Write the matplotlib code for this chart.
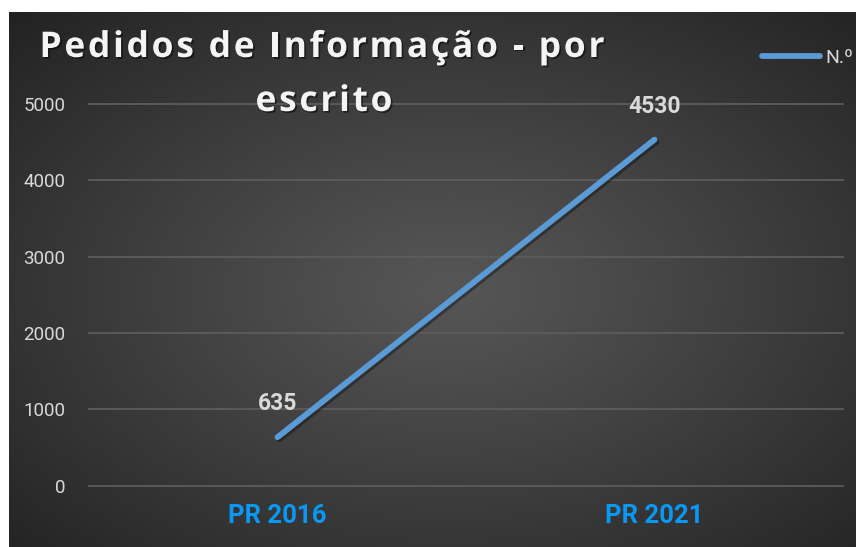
import numpy as np
import matplotlib
matplotlib.use("Agg")
import matplotlib.pyplot as plt
import matplotlib.patheffects as pe
from matplotlib.font_manager import FontProperties

categories = ["PR 2016", "PR 2021"]
values = [635, 4530]
series_name = "N.º"
yticks = [0, 1000, 2000, 3000, 4000, 5000]
title_lines = ["Pedidos de Informação - por", "escrito"]

W, H = 856, 547
fig = plt.figure(figsize=(W / 100, H / 100), dpi=100, facecolor="white")

# dark background panel with radial gradient
bx0, by_top = 9, 12
bg = fig.add_axes([bx0 / W, 0, (W - bx0) / W, (H - by_top) / H])
bg.set_axis_off()
nx, ny = 400, 260
xx, yy = np.meshgrid(np.linspace(0, 1, nx), np.linspace(0, 1, ny))
cx, cy = 0.52, 0.48
r = np.sqrt(((xx - cx) / 0.75) ** 2 + ((yy - cy) / 0.75) ** 2)
r = np.clip(r, 0, 1)
val = (86 - (86 - 33) * r ** 1.1) / 255.0
img = np.dstack([val, val, val])
bg.imshow(img, aspect="auto", extent=[0, 1, 0, 1], origin="lower", interpolation="bilinear")
bg.set_xlim(0, 1)
bg.set_ylim(0, 1)

# main axes
ax_left, ax_right = 89, 843
y0_px, y5000_px = 485.7, 103.7
ax = fig.add_axes([ax_left / W, (H - y0_px) / H, (ax_right - ax_left) / W, (y0_px - y5000_px) / H])
ax.set_facecolor("none")
x = np.arange(len(categories))
line, = ax.plot(x, values, color="#5b9bd5", lw=4.2, solid_capstyle="round", label=series_name,
                path_effects=[pe.SimpleLineShadow(offset=(1.5, -1.5), alpha=0.35, shadow_color="black"), pe.Normal()])
ax.set_xlim(-0.5, len(categories) - 0.5)
ax.set_ylim(0, 5000)
ax.set_yticks(yticks)
ax.set_yticklabels([str(v) for v in yticks], fontsize=13.5, color="#d9d9d9", family="Roboto")
ax.set_xticks(x)
ax.set_xticklabels(categories, fontsize=18.5, fontweight="bold", color="#0a98f5", family="Roboto")
ax.tick_params(axis="y", length=0, pad=17)
ax.tick_params(axis="x", length=0, pad=13)
for s in ax.spines.values():
    s.set_visible(False)
ax.grid(axis="y", color="#5c5c5c", lw=1.3)
ax.set_axisbelow(True)
for gl in ax.get_ygridlines():
    gl.set_clip_on(False)

for xi, v in zip(x, values):
    ax.annotate(str(v), (xi, v), xytext=(0, 24), textcoords="offset points", ha="center", va="center",
                fontsize=16.5, fontweight="bold", color="#d9d9d9", family="Roboto")

leg = ax.legend(loc="center left", bbox_to_anchor=(762 / W, (H - 58) / H), bbox_transform=fig.transFigure,
                frameon=False, handlelength=3.0, handletextpad=0.25, borderpad=0, borderaxespad=0,
                prop={"family": "Roboto", "size": 14})
for t in leg.get_texts():
    t.set_color("#d9d9d9")
for lh in leg.get_lines():
    lh.set_linewidth(4.2)
    lh.set_solid_capstyle("round")
    lh.set_path_effects([])

# letter-spaced title
renderer = fig.canvas.get_renderer()
fp = FontProperties(family="Open Sans", weight="bold", size=25.5)


def text_w(s):
    t = fig.text(0, 0, s + "|", fontproperties=fp)
    w1 = t.get_window_extent(renderer).width
    t.remove()
    t = fig.text(0, 0, "|", fontproperties=fp)
    w2 = t.get_window_extent(renderer).width
    t.remove()
    return w1 - w2


full_w = text_w(title_lines[0])
spacing = max(0.0, (565 - full_w) / (len(title_lines[0]) - 1))


def draw_spaced(s, xc, yb):
    total = text_w(s) + spacing * (len(s) - 1)
    start = xc - total / 2
    for i, ch in enumerate(s):
        if ch == " ":
            continue
        xp = start + text_w(s[:i]) + spacing * i
        fig.text(xp / W, (H - yb) / H, ch, fontproperties=fp, color="#f4f4f4", ha="left", va="baseline",
                 path_effects=[pe.withSimplePatchShadow(offset=(1.2, -1.2), alpha=0.5, shadow_rgbFace="black")])


draw_spaced(title_lines[0], 322, 57)
draw_spaced(title_lines[1], 324, 111)

fig.savefig("out.png", dpi=100, facecolor="white")
